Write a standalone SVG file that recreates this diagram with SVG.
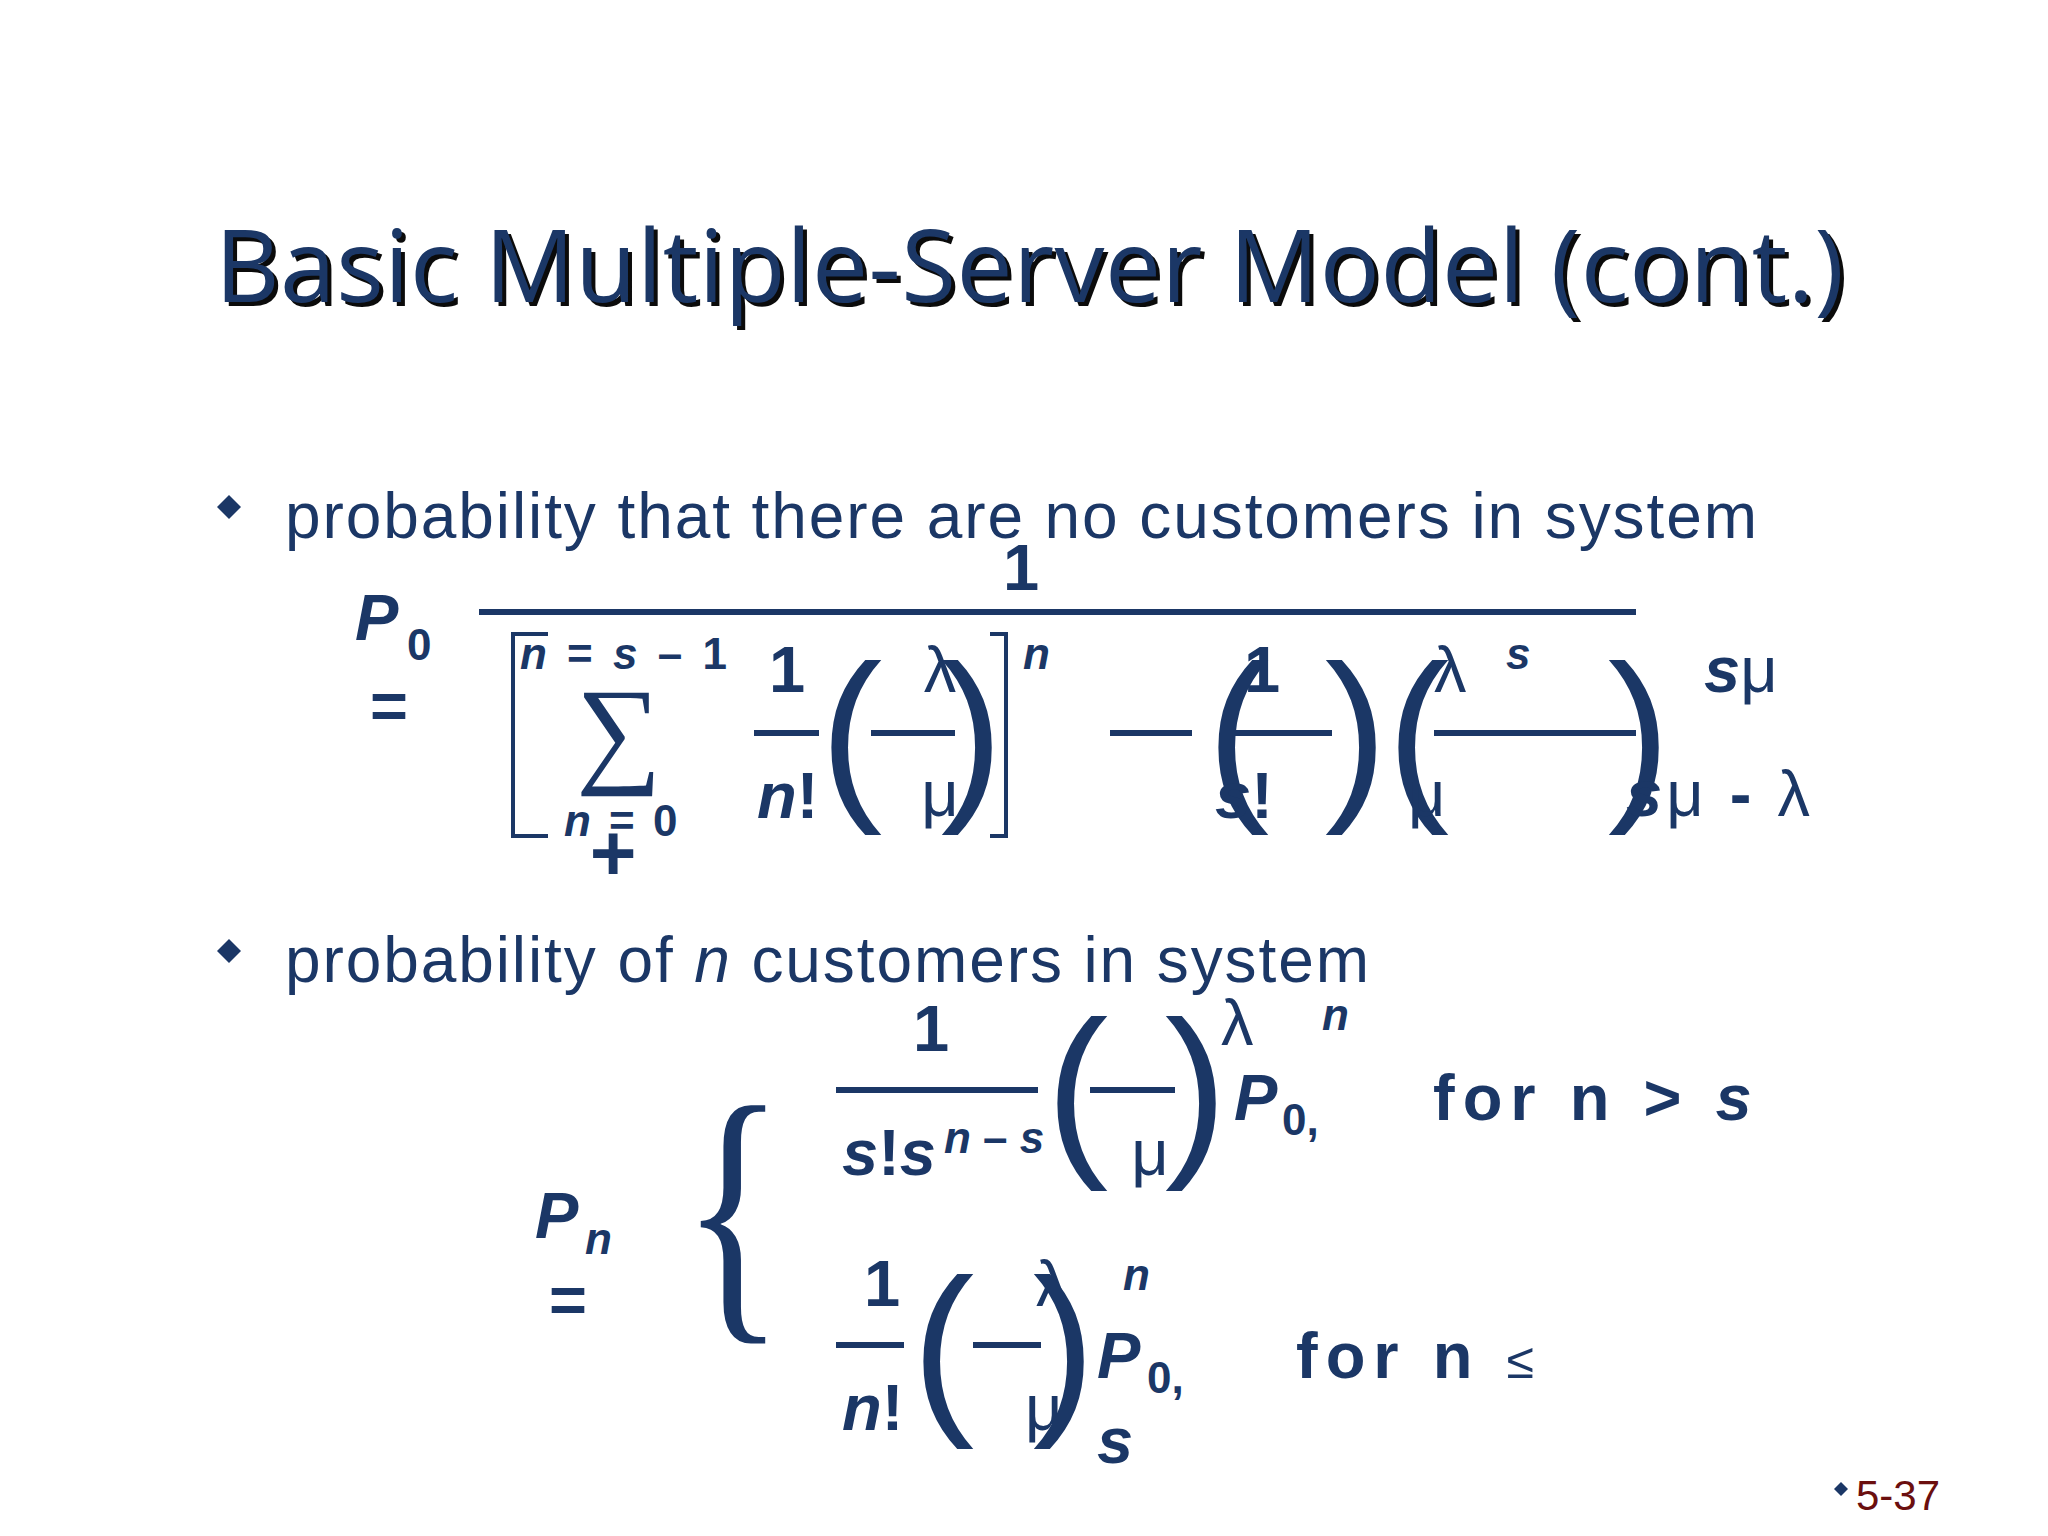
<svg xmlns="http://www.w3.org/2000/svg" width="2048" height="1536" viewBox="0 0 2048 1536">
<style>
.t{font-family:"Liberation Sans",Arial,sans-serif;fill:#1b3766}
.b{font-weight:bold}
.i{font-style:italic}
.m{font-size:65px}
.s{font-size:44px}
.p{font-family:"Liberation Sans",Arial,sans-serif;font-size:188px;fill:#1b3766;text-anchor:middle}
.ln{stroke:#1b3766;stroke-width:6}
.ttl{font-family:"Open Sans","Liberation Sans",sans-serif;font-size:100px;letter-spacing:-3px}
</style>
<rect width="2048" height="1536" fill="#ffffff"/>
<g id="title">
<text class="ttl" x="219" y="306" fill="#0b0b0b" textLength="1626">Basic Multiple-Server Model (cont.)</text>
<text class="ttl" x="215" y="302" fill="#1b3766" textLength="1626">Basic Multiple-Server Model (cont.)</text>
</g>
<g id="bullet1">
<path d="M229 495 L241 507 L229 519 L217 507Z" fill="#1b3766"/>
<text class="t" x="285" y="538" font-size="64" textLength="1472">probability that there are no customers in system</text>
</g>
<g id="formula1">
<text class="t b m" x="1021" y="590" text-anchor="middle">1</text>
<line class="ln" x1="479" y1="612" x2="1636" y2="612"/>
<text class="t b i m" x="355" y="640">P</text><text class="t b s" x="407" y="660">0</text>
<text class="t b m" x="370" y="728">=</text>
<path d="M548 634 H513 V836 H548 M990 634 H1006 V836 H990" fill="none" stroke="#1b3766" stroke-width="4"/>
<text class="t b s" x="520" y="669" letter-spacing="4"><tspan class="i">n</tspan> = <tspan class="i">s</tspan> – 1</text>
<text x="619" y="771" font-family="Liberation Serif,serif" font-size="120" fill="#1b3766" text-anchor="middle">∑</text>
<text class="t b s" x="564" y="836" letter-spacing="3"><tspan class="i">n</tspan> = 0</text>
<text class="t b" x="613" y="880" font-size="80" text-anchor="middle">+</text>
<text class="t b m" x="787" y="692" text-anchor="middle">1</text>
<line class="ln" x1="754" y1="733" x2="819" y2="733"/>
<text class="t b m" x="757" y="818"><tspan class="i">n</tspan>!</text>
<text class="p" x="851" y="796">(</text>
<text class="t m" x="940" y="692" text-anchor="middle">λ</text>
<line class="ln" x1="871" y1="733" x2="955" y2="733"/>
<text class="t m" x="940" y="816" text-anchor="middle">μ</text>
<text class="p" x="972" y="796">)</text>
<text class="t b i s" x="1023" y="669">n</text>
<line class="ln" x1="1110" y1="733" x2="1192" y2="733"/>
<text class="p" x="1238" y="796">(</text>
<text class="t b m" x="1262" y="692" text-anchor="middle">1</text>
<line class="ln" x1="1234" y1="733" x2="1332" y2="733"/>
<text class="t b m" x="1215" y="818"><tspan class="i">s</tspan>!</text>
<text class="p" x="1356" y="796">)</text>
<text class="p" x="1418" y="796">(</text>
<text class="t m" x="1434" y="692">λ</text>
<text class="t b i s" x="1506" y="669">s</text>
<line class="ln" x1="1434" y1="733" x2="1636" y2="733"/>
<text class="t m" x="1408" y="816">μ</text>
<text class="p" x="1639" y="796">)</text>
<text class="t m" x="1704" y="692"><tspan class="b i">s</tspan>μ</text>
<text class="t m" x="1626" y="816" letter-spacing="4"><tspan class="b i">s</tspan>μ <tspan class="b">-</tspan> λ</text>
</g>
<g id="bullet2">
<path d="M229 939 L241 951 L229 963 L217 951Z" fill="#1b3766"/>
<text class="t" x="285" y="982" font-size="64" textLength="1084">probability of <tspan class="i">n</tspan> customers in system</text>
</g>
<g id="formula2">
<text class="t b m" x="931" y="1051" text-anchor="middle">1</text>
<line class="ln" x1="836" y1="1090" x2="1038" y2="1090"/>
<text class="t b m i" x="842" y="1175">s<tspan font-style="normal">!</tspan>s</text>
<text class="t b s" x="944" y="1153"><tspan class="i">n</tspan> – <tspan class="i">s</tspan></text>
<text class="p" x="1077" y="1152">(</text>
<line class="ln" x1="1090" y1="1090" x2="1175" y2="1090"/>
<text class="t m" x="1150" y="1175" text-anchor="middle">μ</text>
<text class="p" x="1196" y="1152">)</text>
<text class="t m" x="1221" y="1045">λ</text>
<text class="t b i s" x="1322" y="1030">n</text>
<text class="t b i m" x="1234" y="1120">P</text><text class="t b s" x="1282" y="1135">0,</text>
<text class="t b m" x="1433" y="1120" letter-spacing="8">for n &gt; <tspan class="i">s</tspan></text>
<text x="733" y="1305" font-family="Liberation Serif,serif" font-size="288" fill="#1b3766" text-anchor="middle" transform="translate(733 0) scale(0.75 1) translate(-733 0)">{</text>
<text class="t b i m" x="535" y="1238">P</text><text class="t b i s" x="585" y="1254">n</text>
<text class="t b m" x="549" y="1322">=</text>
<text class="t b m" x="882" y="1306" text-anchor="middle">1</text>
<line class="ln" x1="836" y1="1345" x2="904" y2="1345"/>
<text class="t b m" x="842" y="1430"><tspan class="i">n</tspan>!</text>
<text class="p" x="943" y="1410">(</text>
<line class="ln" x1="973" y1="1345" x2="1041" y2="1345"/>
<text class="t m" x="1036" y="1306">λ</text>
<text class="t m" x="1025" y="1430">μ</text>
<text class="p" x="1064" y="1410">)</text>
<text class="t b i s" x="1123" y="1290">n</text>
<text class="t b i m" x="1097" y="1378">P</text><text class="t b s" x="1147" y="1393">0,</text>
<text class="t b i m" x="1097" y="1463">s</text>
<text class="t b m" x="1296" y="1378" letter-spacing="8">for n <tspan font-weight="normal" font-size="50">≤</tspan></text>
</g>
<g id="pagenum">
<path d="M1841 1482 L1848 1489 L1841 1496 L1834 1489Z" fill="#1b3766"/>
<text x="1856" y="1510" font-family="Liberation Sans,Arial,sans-serif" font-size="42" fill="#6b0f0f">5-37</text>
</g>
</svg>
